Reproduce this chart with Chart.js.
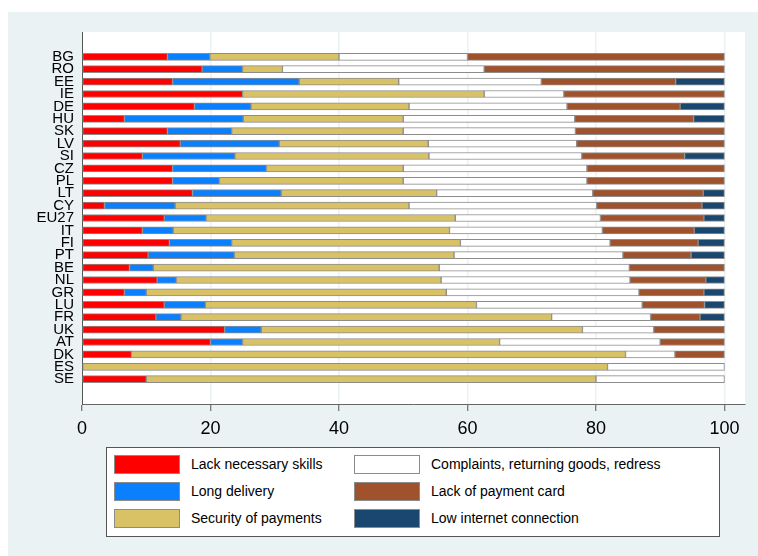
<!DOCTYPE html>
<html>
<head>
<meta charset="utf-8">
<script src="https://cdn.jsdelivr.net/npm/chart.js@4/dist/chart.umd.min.js"></script>
<style>
    body { margin: 0; background: #ffffff; font-family: "Liberation Sans", Arial, sans-serif; }
    #wrap { position: relative; width: 758px; height: 556px; overflow: hidden; }
    #panel { position: absolute; left: 8px; top: 12px; width: 750px; height: 544px; background: #eaf2f3; }
    #chartCanvas { position: absolute; left: 0; top: 0; }
    #legend {
        position: absolute; left: 106px; top: 447px; width: 612px; height: 88px;
        background: #ffffff; border: 1px solid #555555;
    }
    .item { position: absolute; height: 19px; }
    .swatch { position: absolute; left: 0; top: 0; width: 64px; height: 17px; border: 1px solid #8c8c8c; }
    .label { position: absolute; left: 77px; top: 0; line-height: 19px; font-size: 14px; color: #000; white-space: nowrap; }
</style>
</head>
<body>
<div id="wrap">
    <div id="panel"></div>
    <canvas id="chartCanvas" width="758" height="556"></canvas>
    <div id="legend"></div>
</div>
<script>
// categories, top to bottom
const countries = ["BG", "RO", "EE", "IE", "DE", "HU", "SK", "LV", "SI", "CZ", "PL", "LT", "CY", "EU27",
    "IT", "FI", "PT", "BE", "NL", "GR", "LU", "FR", "UK", "AT", "DK", "ES", "SE"];

// series values (share of respondents, %)
const lackSkills = [13.3, 18.7, 14.1, 25.0, 17.5, 6.6, 13.3, 15.3, 9.4, 14.1, 14.1, 17.2, 3.5, 12.8,
    9.4, 13.6, 10.3, 7.4, 11.7, 6.6, 12.8, 11.5, 22.2, 20.0, 7.7, 0, 10.0];
const longDelivery = [6.6, 6.3, 19.7, 0, 8.8, 18.5, 10.0, 15.4, 14.4, 14.6, 7.3, 13.8, 11.0, 6.5,
    4.8, 9.7, 13.4, 3.7, 3.0, 3.4, 6.4, 3.9, 5.7, 5.0, 0, 0, 0];
const securityPayments = [20.1, 6.2, 15.5, 37.6, 24.6, 24.9, 26.7, 23.2, 30.2, 21.3, 28.6, 24.2, 36.4, 38.8,
    43.0, 35.6, 34.2, 44.5, 41.2, 46.7, 42.2, 57.7, 50.0, 40.0, 76.9, 81.8, 70.0];
const complaints = [20.0, 31.4, 22.2, 12.4, 24.6, 26.7, 26.8, 23.1, 23.8, 28.6, 28.6, 24.3, 29.2, 22.6,
    23.8, 23.3, 26.3, 29.6, 29.4, 30.0, 25.8, 15.4, 11.1, 25.0, 7.7, 18.2, 20.0];
const paymentCard = [40.0, 37.4, 20.9, 25.0, 17.6, 18.5, 23.2, 23.0, 16.0, 21.4, 21.4, 17.2, 16.4, 16.1,
    14.3, 13.7, 10.6, 14.8, 11.8, 10.1, 9.7, 7.7, 11.0, 10.0, 7.7, 0, 0];
const lowInternet = [0, 0, 7.6, 0, 6.9, 4.8, 0, 0, 6.2, 0, 0, 3.3, 3.5, 3.2,
    4.7, 4.1, 5.2, 0, 2.9, 3.2, 3.1, 3.8, 0, 0, 0, 0, 0];

const xTicks = [0, 20, 40, 60, 80, 100];

const seriesNames = ["Lack necessary skills", "Long delivery", "Security of payments",
    "Complaints, returning goods, redress", "Lack of payment card", "Low internet connection"];
const seriesColors = ["#ff0000", "#0a80ff", "#d9c266", "#ffffff", "#a0522d", "#1a476f"];
const seriesData = [lackSkills, longDelivery, securityPayments, complaints, paymentCard, lowInternet];

// two empty slots top and bottom give the outer gap stata leaves
function pad(arr) {
    return [null, null].concat(arr, [null, null]);
}

const plotBackground = {
    id: "plotBackground",
    beforeDraw(chart) {
        const a = chart.chartArea;
        const ctx = chart.ctx;
        ctx.save();
        ctx.fillStyle = "#ffffff";
        ctx.fillRect(a.left, a.top, a.right - a.left, a.bottom - a.top);
        ctx.restore();
    }
};

const ctx = document.getElementById("chartCanvas").getContext("2d");
new Chart(ctx, {
    type: "bar",
    data: {
        labels: pad(countries).map(c => c || ""),
        datasets: seriesData.map((d, i) => ({
            label: seriesNames[i],
            data: pad(d),
            backgroundColor: seriesColors[i],
            borderColor: "#8c8c8c",
            borderWidth: 1,
            borderSkipped: false,
            barThickness: 7
        }))
    },
    options: {
        indexAxis: "y",
        responsive: false,
        animation: false,
        layout: { padding: { left: 0, top: 32, right: 13, bottom: 0 } },
        plugins: {
            legend: { display: false },
            tooltip: { enabled: false }
        },
        scales: {
            x: {
                stacked: true,
                min: 0,
                max: 103.2,
                afterBuildTicks: function (scale) {
                    scale.ticks = xTicks.map(v => ({ value: v }));
                },
                afterFit: function (scale) { scale.height = 152; },
                grid: {
                    color: "#eaf2f3",
                    lineWidth: 1.5,
                    tickColor: "#555555",
                    tickLength: 7,
                    tickWidth: 1
                },
                border: { color: "#666666", width: 1 },
                ticks: {
                    color: "#000000",
                    padding: 7,
                    maxRotation: 0,
                    font: { family: "'Liberation Sans', Arial, sans-serif", size: 18 }
                }
            },
            y: {
                stacked: true,
                offset: false,
                afterFit: function (scale) { scale.width = 82; },
                grid: { display: false, drawTicks: false },
                border: { color: "#555555", width: 1 },
                ticks: {
                    autoSkip: false,
                    color: "#000000",
                    padding: 8,
                    font: { family: "'Liberation Sans', Arial, sans-serif", size: 15 }
                }
            }
        }
    },
    plugins: [plotBackground]
});

// legend, filled column by column like the original
const legend = document.getElementById("legend");
seriesNames.forEach(function (name, i) {
    const col = Math.floor(i / 3);
    const row = i % 3;
    const item = document.createElement("div");
    item.className = "item";
    item.style.left = (7 + col * 240) + "px";
    item.style.top = (7 + row * 27) + "px";
    const sw = document.createElement("div");
    sw.className = "swatch";
    sw.style.background = seriesColors[i];
    const lb = document.createElement("div");
    lb.className = "label";
    lb.textContent = name;
    item.appendChild(sw);
    item.appendChild(lb);
    legend.appendChild(item);
});
</script>
</body>
</html>
